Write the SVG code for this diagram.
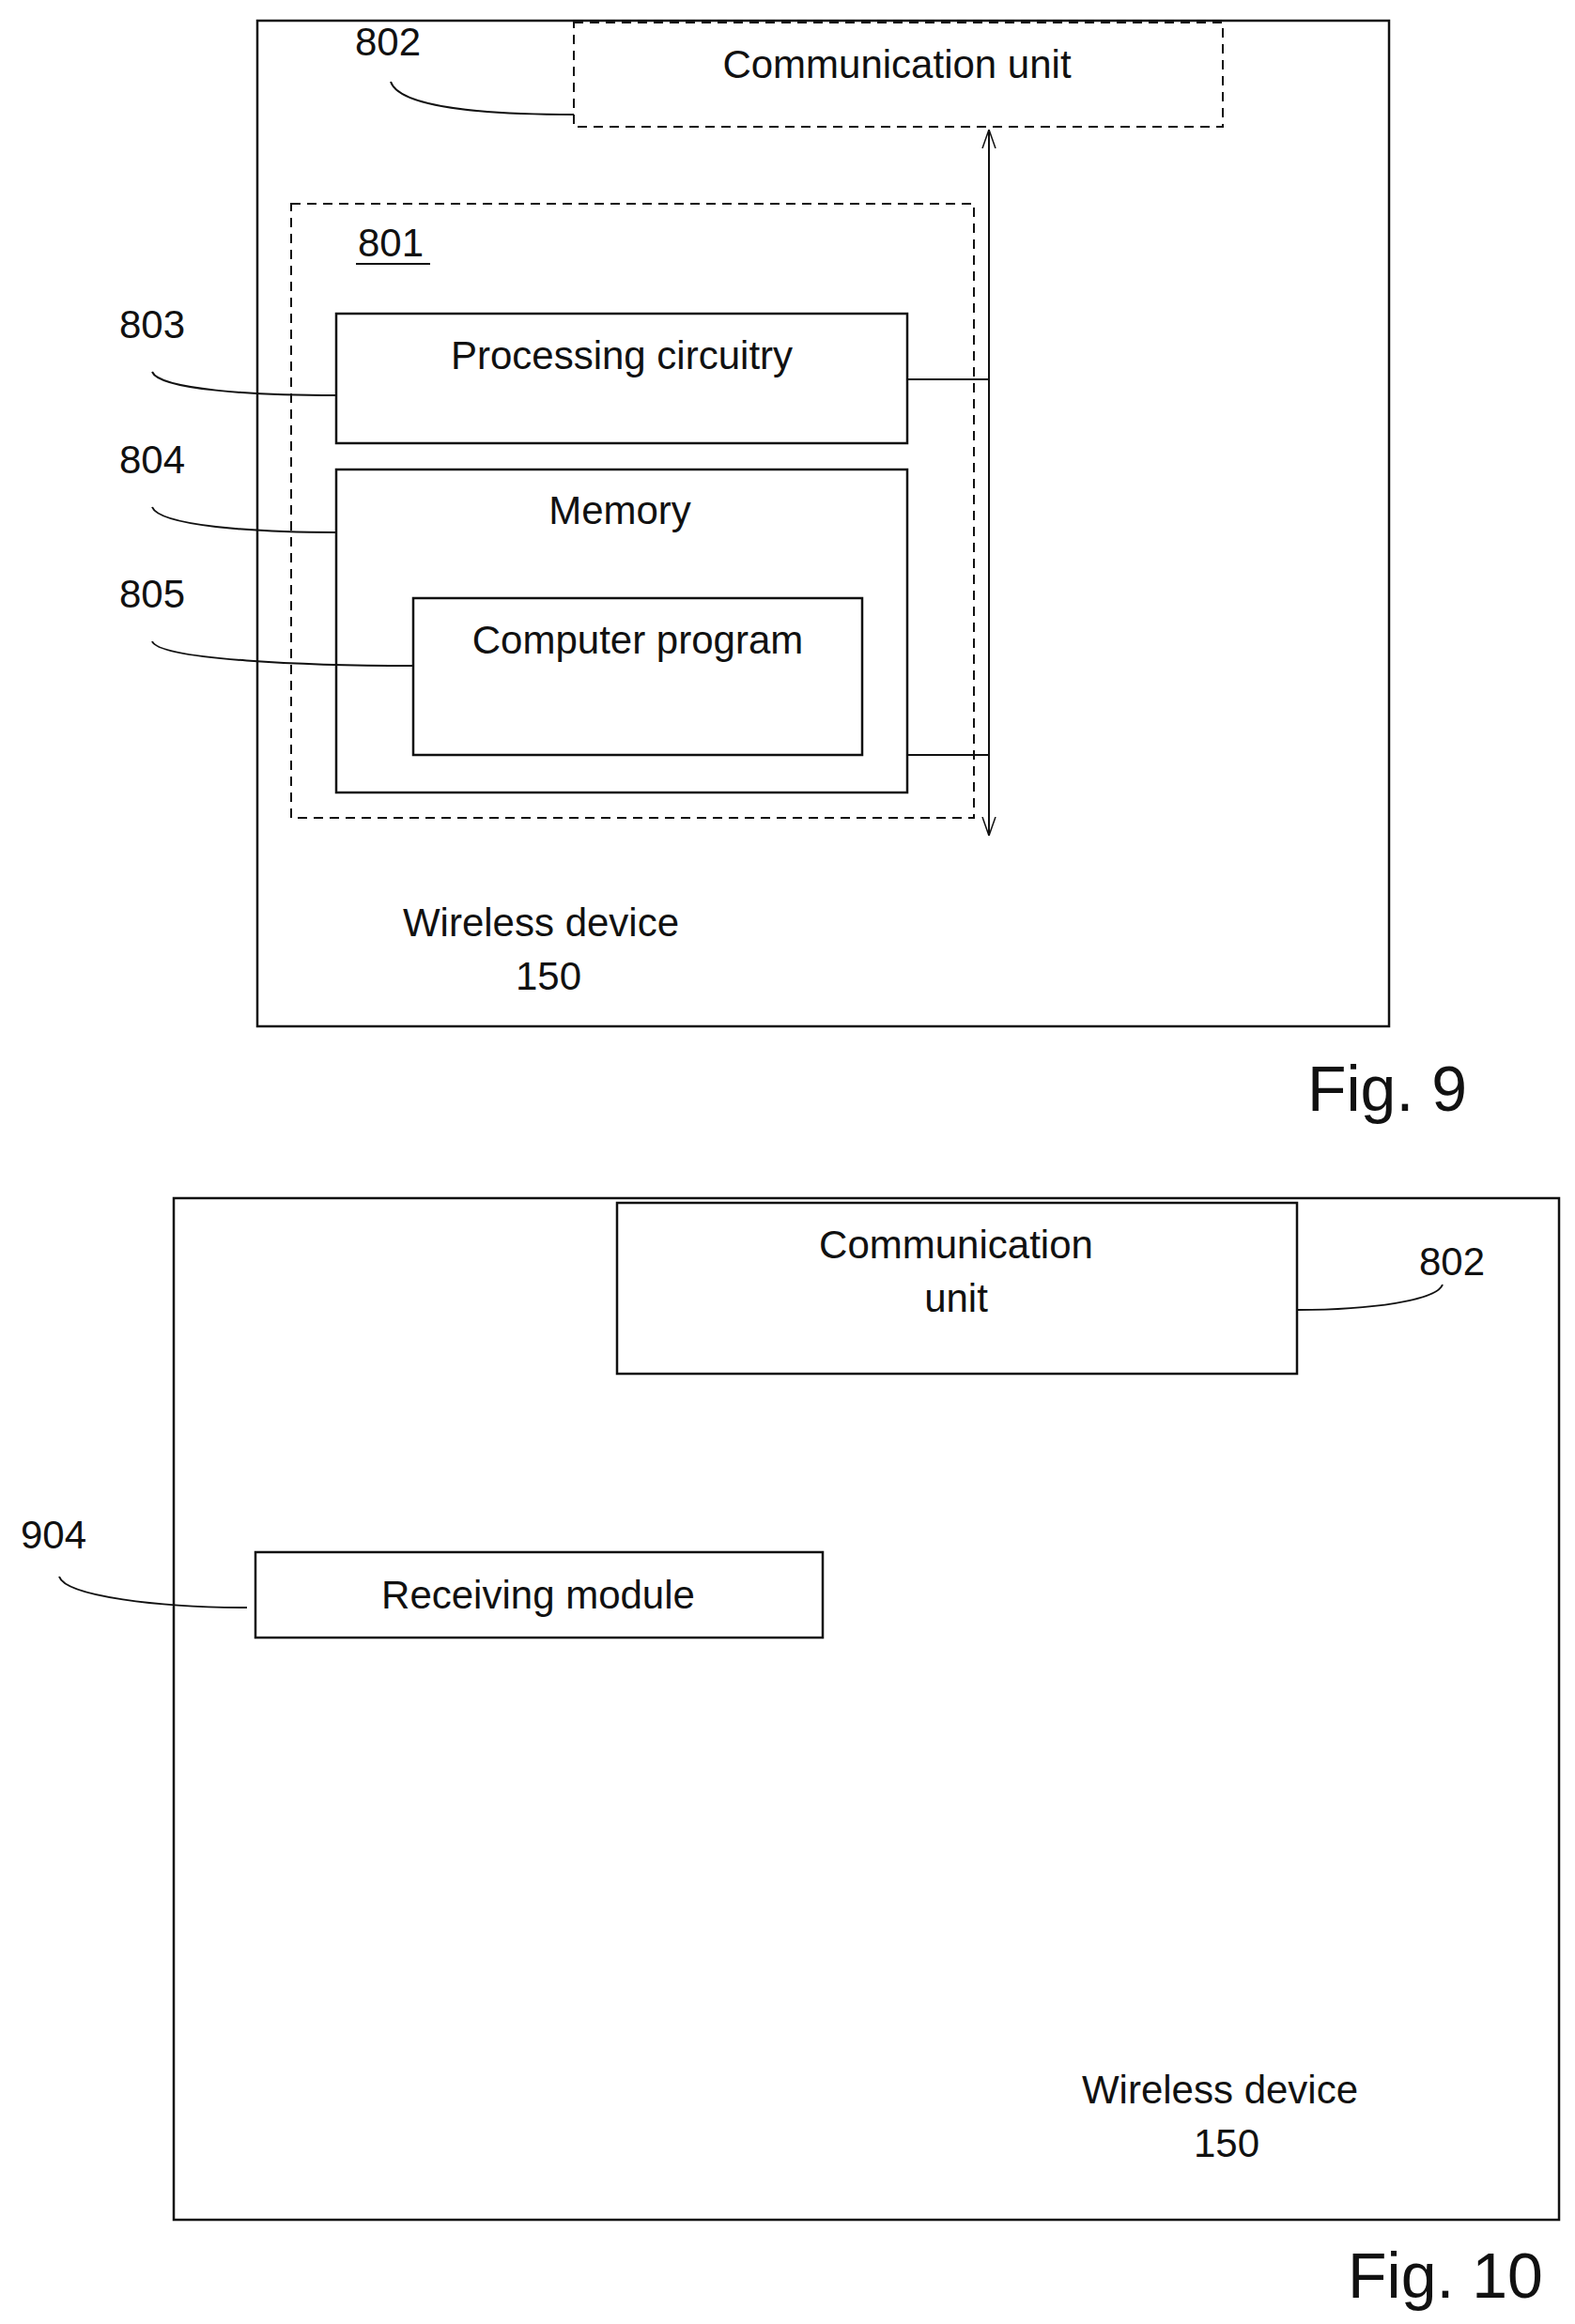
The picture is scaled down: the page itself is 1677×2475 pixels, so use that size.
<svg xmlns="http://www.w3.org/2000/svg" width="1677" height="2475" viewBox="0 0 1677 2475">
<style>
text{font-family:"Liberation Sans",Arial,sans-serif;font-size:42px;fill:#111;text-anchor:middle}
.b{fill:none;stroke:#111;stroke-width:2.5}
.d{fill:none;stroke:#111;stroke-width:2;stroke-dasharray:10,7}
.l{fill:none;stroke:#111;stroke-width:2}
.fig{font-size:68px}
</style>
<defs><marker id="ah" viewBox="0 0 20 20" refX="20" refY="10" markerWidth="20" markerHeight="20" markerUnits="userSpaceOnUse" orient="auto-start-reverse"><path d="M0,3 L20,10 L0,17" fill="none" stroke="#111" stroke-width="1.5"/></marker></defs>
<g id="fig9">
<rect id="wd9" class="b" x="274" y="22" width="1205" height="1071"/>
<g id="comm9"><rect class="d" x="611" y="24" width="691" height="111"/><text x="955" y="83">Communication unit</text></g>
<g id="n801"><rect class="d" x="310" y="217" width="727" height="654"/><text x="416" y="273">801</text><line class="l" x1="379" y1="281" x2="458" y2="281"/></g>
<g id="proc"><rect class="b" x="358" y="334" width="608" height="138"/><text x="662" y="393">Processing circuitry</text></g>
<g id="mem"><rect class="b" x="358" y="500" width="608" height="344"/><text x="660" y="558">Memory</text></g>
<g id="prog"><rect class="b" x="440" y="637" width="478" height="167"/><text x="679" y="696">Computer program</text></g>
<text x="576" y="997">Wireless device</text><text x="584" y="1054">150</text>
<text x="413" y="59">802</text><text x="162" y="360">803</text><text x="162" y="504">804</text><text x="162" y="647">805</text>
<text class="fig" x="1477" y="1183">Fig. 9</text>
</g>
<g id="fig10">
<rect id="wd10" class="b" x="185" y="1276" width="1475" height="1088"/>
<g id="comm10"><rect class="b" x="657" y="1281" width="724" height="182"/><text x="1018" y="1340">Communication</text><text x="1018" y="1397">unit</text></g>
<g id="recv"><rect class="b" x="272" y="1653" width="604" height="91"/><text x="573" y="1713">Receiving module</text></g>
<text x="1299" y="2240">Wireless device</text><text x="1306" y="2297">150</text>
<text x="1546" y="1358">802</text><text x="57" y="1649">904</text>
<text class="fig" x="1539" y="2447">Fig. 10</text>
</g>
<g id="connectors">
<line class="l" x1="1053" y1="138" x2="1053" y2="890" marker-start="url(#ah)" marker-end="url(#ah)"/>
<line class="l" x1="966" y1="404" x2="1053" y2="404"/>
<line class="l" x1="966" y1="804" x2="1053" y2="804"/>
<path class="l" d="M416,87 C425,115 520,122 611,122"/>
<path class="l" d="M162,396 C170,415 270,421 358,421"/>
<path class="l" d="M162,540 C170,560 270,567 358,567"/>
<path class="l" d="M162,683 C170,703 330,709 440,709"/>
<path class="l" d="M1381,1395 C1460,1395 1530,1385 1536,1368"/>
<path class="l" d="M63,1679 C70,1700 170,1712 263,1712"/>
</g>
</svg>
